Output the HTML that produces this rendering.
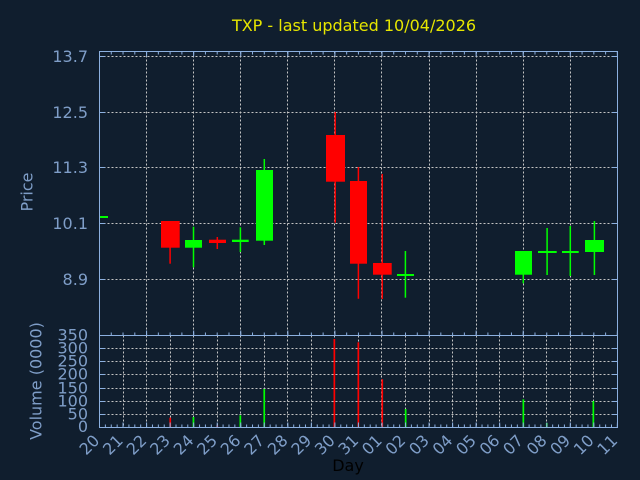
<!DOCTYPE html>
<html><head><meta charset="utf-8"><style>
html,body{margin:0;padding:0;background:#101e2e;}
svg{display:block;}
text{font-family:"DejaVu Sans","Liberation Sans",sans-serif;}
</style></head><body>
<svg width="640" height="480" viewBox="0 0 640 480" xmlns="http://www.w3.org/2000/svg">
<rect x="0" y="0" width="640" height="480" fill="#101e2e"/>
<text x="354" y="31" font-size="16" fill="#e6e600" text-anchor="middle">TXP - last updated 10/04/2026</text>
<g stroke="#c4c4c4" stroke-width="1" stroke-dasharray="2,2" fill="none">
<line x1="99.5" y1="56.5" x2="617.5" y2="56.5"/>
<line x1="99.5" y1="112.5" x2="617.5" y2="112.5"/>
<line x1="99.5" y1="167.5" x2="617.5" y2="167.5"/>
<line x1="99.5" y1="223.5" x2="617.5" y2="223.5"/>
<line x1="99.5" y1="279.5" x2="617.5" y2="279.5"/>
<line x1="146.5" y1="51.5" x2="146.5" y2="335.5"/>
<line x1="193.5" y1="51.5" x2="193.5" y2="335.5"/>
<line x1="240.5" y1="51.5" x2="240.5" y2="335.5"/>
<line x1="287.5" y1="51.5" x2="287.5" y2="335.5"/>
<line x1="334.5" y1="51.5" x2="334.5" y2="335.5"/>
<line x1="381.5" y1="51.5" x2="381.5" y2="335.5"/>
<line x1="429.5" y1="51.5" x2="429.5" y2="335.5"/>
<line x1="476.5" y1="51.5" x2="476.5" y2="335.5"/>
<line x1="523.5" y1="51.5" x2="523.5" y2="335.5"/>
<line x1="570.5" y1="51.5" x2="570.5" y2="335.5"/>
<line x1="99.5" y1="348.5" x2="617.5" y2="348.5"/>
<line x1="99.5" y1="361.5" x2="617.5" y2="361.5"/>
<line x1="99.5" y1="374.5" x2="617.5" y2="374.5"/>
<line x1="99.5" y1="388.5" x2="617.5" y2="388.5"/>
<line x1="99.5" y1="401.5" x2="617.5" y2="401.5"/>
<line x1="99.5" y1="414.5" x2="617.5" y2="414.5"/>
<line x1="123.5" y1="335.5" x2="123.5" y2="427.5"/>
<line x1="146.5" y1="335.5" x2="146.5" y2="427.5"/>
<line x1="170.5" y1="335.5" x2="170.5" y2="427.5"/>
<line x1="193.5" y1="335.5" x2="193.5" y2="427.5"/>
<line x1="217.5" y1="335.5" x2="217.5" y2="427.5"/>
<line x1="240.5" y1="335.5" x2="240.5" y2="427.5"/>
<line x1="264.5" y1="335.5" x2="264.5" y2="427.5"/>
<line x1="287.5" y1="335.5" x2="287.5" y2="427.5"/>
<line x1="311.5" y1="335.5" x2="311.5" y2="427.5"/>
<line x1="334.5" y1="335.5" x2="334.5" y2="427.5"/>
<line x1="358.5" y1="335.5" x2="358.5" y2="427.5"/>
<line x1="381.5" y1="335.5" x2="381.5" y2="427.5"/>
<line x1="405.5" y1="335.5" x2="405.5" y2="427.5"/>
<line x1="429.5" y1="335.5" x2="429.5" y2="427.5"/>
<line x1="452.5" y1="335.5" x2="452.5" y2="427.5"/>
<line x1="476.5" y1="335.5" x2="476.5" y2="427.5"/>
<line x1="499.5" y1="335.5" x2="499.5" y2="427.5"/>
<line x1="523.5" y1="335.5" x2="523.5" y2="427.5"/>
<line x1="546.5" y1="335.5" x2="546.5" y2="427.5"/>
<line x1="570.5" y1="335.5" x2="570.5" y2="427.5"/>
<line x1="593.5" y1="335.5" x2="593.5" y2="427.5"/>
</g>
<g>
<rect x="99.5" y="216" width="8.5" height="2" fill="#00ff00"/>
<line x1="170.1" y1="247" x2="170.1" y2="263.7" stroke="#ff0000" stroke-width="1.5"/>
<rect x="161" y="221" width="18.7" height="26.7" fill="#ff0000"/>
<line x1="193.5" y1="226.7" x2="193.5" y2="267.3" stroke="#00ff00" stroke-width="1.5"/>
<rect x="185" y="240" width="17" height="7.7" fill="#00ff00"/>
<line x1="217.3" y1="237" x2="217.3" y2="249" stroke="#ff0000" stroke-width="1.5"/>
<rect x="209" y="239.7" width="17" height="3.3" fill="#ff0000"/>
<line x1="240.4" y1="227.3" x2="240.4" y2="252" stroke="#00ff00" stroke-width="1.5"/>
<rect x="232" y="239.7" width="16.7" height="2.3" fill="#00ff00"/>
<line x1="264.3" y1="159" x2="264.3" y2="245" stroke="#00ff00" stroke-width="1.5"/>
<rect x="256" y="170" width="17" height="70.7" fill="#00ff00"/>
<line x1="335.2" y1="112" x2="335.2" y2="222.7" stroke="#ff0000" stroke-width="1.5"/>
<rect x="326" y="135" width="19" height="46.7" fill="#ff0000"/>
<line x1="358.4" y1="167" x2="358.4" y2="298.7" stroke="#ff0000" stroke-width="1.5"/>
<rect x="350" y="181" width="17" height="82.7" fill="#ff0000"/>
<line x1="382.2" y1="174" x2="382.2" y2="299" stroke="#ff0000" stroke-width="1.5"/>
<rect x="373" y="263" width="18.7" height="11.7" fill="#ff0000"/>
<line x1="405.4" y1="251" x2="405.4" y2="297.7" stroke="#00ff00" stroke-width="1.5"/>
<rect x="397" y="274" width="17" height="2" fill="#00ff00"/>
<line x1="523.3" y1="251" x2="523.3" y2="283.3" stroke="#00ff00" stroke-width="1.5"/>
<rect x="515" y="251" width="17" height="23.7" fill="#00ff00"/>
<line x1="547.1" y1="228" x2="547.1" y2="275" stroke="#00ff00" stroke-width="1.5"/>
<rect x="538" y="251" width="18.7" height="2" fill="#00ff00"/>
<line x1="570.3" y1="226" x2="570.3" y2="276" stroke="#00ff00" stroke-width="1.5"/>
<rect x="562" y="251" width="16.7" height="2" fill="#00ff00"/>
<line x1="594.4" y1="221" x2="594.4" y2="275" stroke="#00ff00" stroke-width="1.5"/>
<rect x="585" y="240" width="19" height="12" fill="#00ff00"/>
</g>
<g>
<rect x="169.4" y="417.7" width="1.7" height="9.8" fill="#ff0000"/>
<rect x="192.6" y="417" width="1.7" height="10.5" fill="#00ff00"/>
<rect x="216.4" y="425.5" width="1.7" height="2" fill="#ff0000"/>
<rect x="239.5" y="415.3" width="1.7" height="12.2" fill="#00ff00"/>
<rect x="263.4" y="389" width="1.7" height="38.5" fill="#00ff00"/>
<rect x="333.5" y="339" width="1.7" height="88.5" fill="#ff0000"/>
<rect x="357.5" y="342.3" width="1.7" height="85.2" fill="#ff0000"/>
<rect x="381.4" y="379.3" width="1.7" height="48.2" fill="#ff0000"/>
<rect x="404.8" y="409" width="1.7" height="18.5" fill="#00ff00"/>
<rect x="522.5" y="399.3" width="1.7" height="28.2" fill="#00ff00"/>
<rect x="545.9" y="423" width="1.7" height="4.5" fill="#00ff00"/>
<rect x="592.5" y="401" width="1.7" height="26.5" fill="#00ff00"/>
</g>
<g stroke="#8cb0e0" fill="none">
<rect x="99.5" y="51.5" width="518" height="284" stroke-width="1"/>
<rect x="99.5" y="335.5" width="518" height="92" stroke-width="1"/>
<line x1="99" y1="53" x2="618" y2="53" stroke-width="3" stroke-dasharray="1 10.77"/>
<line x1="99" y1="54" x2="618" y2="54" stroke-width="5" stroke-dasharray="1 46.08"/>
<line x1="99" y1="334" x2="618" y2="334" stroke-width="3" stroke-dasharray="1 10.77"/>
<line x1="99" y1="333" x2="618" y2="333" stroke-width="5" stroke-dasharray="1 46.08"/>
<line x1="99" y1="426" x2="618" y2="426" stroke-width="3" stroke-dasharray="1 4.885"/>
<line x1="99" y1="425" x2="618" y2="425" stroke-width="5" stroke-dasharray="1 22.54"/>
<g stroke-width="1">
<line x1="99.5" y1="56.5" x2="105" y2="56.5"/><line x1="612" y1="56.5" x2="617.5" y2="56.5"/>
<line x1="99.5" y1="112.5" x2="105" y2="112.5"/><line x1="612" y1="112.5" x2="617.5" y2="112.5"/>
<line x1="99.5" y1="167.5" x2="105" y2="167.5"/><line x1="612" y1="167.5" x2="617.5" y2="167.5"/>
<line x1="99.5" y1="223.5" x2="105" y2="223.5"/><line x1="612" y1="223.5" x2="617.5" y2="223.5"/>
<line x1="99.5" y1="279.5" x2="105" y2="279.5"/><line x1="612" y1="279.5" x2="617.5" y2="279.5"/>
<line x1="99.5" y1="348.5" x2="105" y2="348.5"/><line x1="612" y1="348.5" x2="617.5" y2="348.5"/>
<line x1="99.5" y1="361.5" x2="105" y2="361.5"/><line x1="612" y1="361.5" x2="617.5" y2="361.5"/>
<line x1="99.5" y1="374.5" x2="105" y2="374.5"/><line x1="612" y1="374.5" x2="617.5" y2="374.5"/>
<line x1="99.5" y1="388.5" x2="105" y2="388.5"/><line x1="612" y1="388.5" x2="617.5" y2="388.5"/>
<line x1="99.5" y1="401.5" x2="105" y2="401.5"/><line x1="612" y1="401.5" x2="617.5" y2="401.5"/>
<line x1="99.5" y1="414.5" x2="105" y2="414.5"/><line x1="612" y1="414.5" x2="617.5" y2="414.5"/>
</g>
</g>
<g font-size="16" fill="#7f9ec8" text-anchor="end">
<text x="88" y="62">13.7</text>
<text x="88" y="118">12.5</text>
<text x="88" y="173">11.3</text>
<text x="88" y="229">10.1</text>
<text x="88" y="285">8.9</text>
<text x="88" y="340.5">350</text>
<text x="88" y="353.5">300</text>
<text x="88" y="366.5">250</text>
<text x="88" y="379.5">200</text>
<text x="88" y="393.5">150</text>
<text x="88" y="406.5">100</text>
<text x="88" y="419.5">50</text>
<text x="88" y="432">0</text>
</g>
<text font-size="16" fill="#7f9ec8" text-anchor="middle" transform="translate(32.5,192) rotate(-90)">Price</text>
<text font-size="16" fill="#7f9ec8" text-anchor="middle" transform="translate(41.5,381) rotate(-90)">Volume (0000)</text>
<g font-size="16" fill="#7f9ec8" text-anchor="end">
<text transform="translate(100.5,441.5) rotate(-45)">20</text>
<text transform="translate(124,441.5) rotate(-45)">21</text>
<text transform="translate(147.6,441.5) rotate(-45)">22</text>
<text transform="translate(171.1,441.5) rotate(-45)">23</text>
<text transform="translate(194.7,441.5) rotate(-45)">24</text>
<text transform="translate(218.2,441.5) rotate(-45)">25</text>
<text transform="translate(241.7,441.5) rotate(-45)">26</text>
<text transform="translate(265.3,441.5) rotate(-45)">27</text>
<text transform="translate(288.8,441.5) rotate(-45)">28</text>
<text transform="translate(312.4,441.5) rotate(-45)">29</text>
<text transform="translate(335.9,441.5) rotate(-45)">30</text>
<text transform="translate(359.4,441.5) rotate(-45)">31</text>
<text transform="translate(383,441.5) rotate(-45)">01</text>
<text transform="translate(406.5,441.5) rotate(-45)">02</text>
<text transform="translate(430.1,441.5) rotate(-45)">03</text>
<text transform="translate(453.6,441.5) rotate(-45)">04</text>
<text transform="translate(477.1,441.5) rotate(-45)">05</text>
<text transform="translate(500.7,441.5) rotate(-45)">06</text>
<text transform="translate(524.2,441.5) rotate(-45)">07</text>
<text transform="translate(547.8,441.5) rotate(-45)">08</text>
<text transform="translate(571.3,441.5) rotate(-45)">09</text>
<text transform="translate(594.8,441.5) rotate(-45)">10</text>
<text transform="translate(618.4,441.5) rotate(-45)">11</text>
</g>
<text x="348" y="471" font-size="16" fill="#000000" text-anchor="middle">Day</text>
</svg>
</body></html>
